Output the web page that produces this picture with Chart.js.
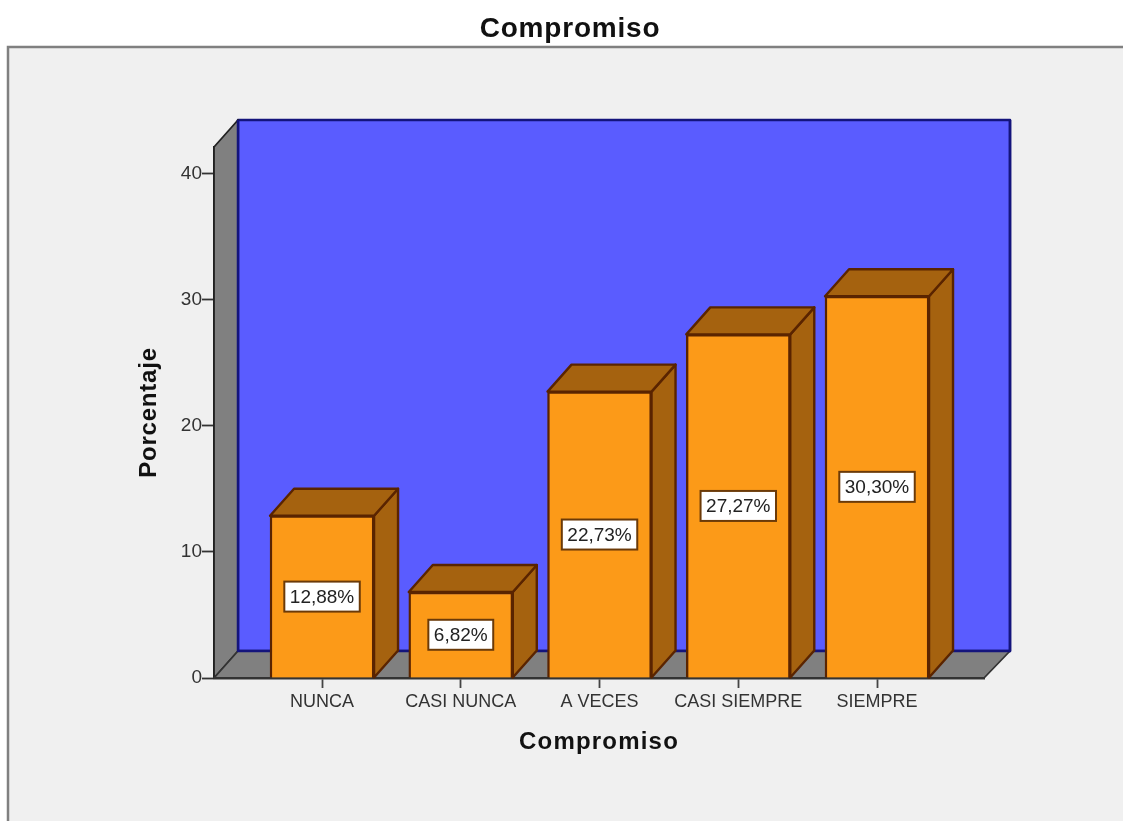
<!DOCTYPE html>
<html><head><meta charset="utf-8">
<script src="https://cdn.jsdelivr.net/npm/chart.js@4"></script>
<style>html,body{margin:0;padding:0;background:#fff}canvas{display:block;filter:blur(.45px)}</style>
</head><body><canvas id="c" width="1123" height="821"></canvas>
<script>
const categories = ['NUNCA','CASI NUNCA','A VECES','CASI SIEMPRE','SIEMPRE'];
const percentages = [12.88,6.82,22.73,27.27,30.30];
const valueLabels = ['12,88%','6,82%','22,73%','27,27%','30,30%'];
const chartTitle = 'Compromiso';
const xTitle = 'Compromiso';
const yTitle = 'Porcentaje';

const DX = 24, DY = 27;
const FONT = '"Liberation Sans", Arial, sans-serif';

function spaced(obj, method, ctx, spacing){
  if(obj['__'+method]) return;
  const orig = obj[method];
  obj['__'+method] = true;
  obj[method] = function(...args){
    ctx.letterSpacing = spacing;
    orig.apply(this,args);
    ctx.letterSpacing = '0px';
  };
}

const scene = {
  id:'scene',
  afterLayout(chart){
    chart.titleBlock.left = 0;
    chart.titleBlock.right = 1140;
    spaced(chart.titleBlock,'draw',chart.ctx,'0.8px');
    spaced(chart.scales.x,'drawTitle',chart.ctx,'1.2px');
    spaced(chart.scales.y,'drawTitle',chart.ctx,'0.8px');
  },
  beforeDraw(chart){
    const c = chart.ctx;
    c.save();
    c.fillStyle='#fff'; c.fillRect(0,0,1123,821);
    c.fillStyle='#f0f0f0'; c.fillRect(8,47,1115,774);
    c.strokeStyle='#808080'; c.lineWidth=2.5;
    c.beginPath(); c.moveTo(8,821); c.lineTo(8,47); c.lineTo(1123,47); c.stroke();
    c.restore();
  },
  beforeDatasetsDraw(chart){
    const c = chart.ctx, a = chart.chartArea;
    const poly=(pts,fill,stroke,lw)=>{
      c.beginPath(); pts.forEach((p,i)=>i?c.lineTo(p[0],p[1]):c.moveTo(p[0],p[1])); c.closePath();
      c.fillStyle=fill; c.fill(); c.strokeStyle=stroke; c.lineWidth=lw; c.lineJoin='round'; c.stroke();
    };
    c.save();
    // back wall
    poly([[a.left+DX,a.top-DY],[a.right+DX+2,a.top-DY],[a.right+DX+2,a.bottom-DY],[a.left+DX,a.bottom-DY]],'#5a5cff','#14147c',2.5);
    // left wall
    poly([[a.left,a.top],[a.left+DX,a.top-DY],[a.left+DX,a.bottom-DY],[a.left,a.bottom]],'#808080','#222',1.8);
    // floor
    poly([[a.left,a.bottom],[a.left+DX,a.bottom-DY],[a.right+DX+2,a.bottom-DY],[a.right,a.bottom]],'#808080','#333',1.8);
    // blue edges over the floor
    c.strokeStyle='#14147c'; c.lineWidth=2.5;
    c.beginPath(); c.moveTo(a.left+DX,a.top-DY); c.lineTo(a.left+DX,a.bottom-DY); c.lineTo(a.right+DX+2,a.bottom-DY); c.lineTo(a.right+DX+2,a.top-DY); c.stroke();
    // bar depth faces
    chart.getDatasetMeta(0).data.forEach(b=>{
      const l=b.x-b.width/2, r=b.x+b.width/2, t=b.y, bt=b.base;
      poly([[r,t],[r+DX,t-DY],[r+DX,bt-DY],[r,bt]],'#a5620f','#5a2400',2.4);
      poly([[l,t],[l+DX,t-DY],[r+DX,t-DY],[r,t]],'#a5620f','#5a2400',2.4);
    });
    c.restore();
  },
  afterDatasetsDraw(chart){
    const c = chart.ctx;
    c.save();
    c.font='19px '+FONT; c.textAlign='center'; c.textBaseline='middle';
    chart.getDatasetMeta(0).data.forEach((b,i)=>{
      const txt=valueLabels[i], w=c.measureText(txt).width+11, h=30, cy=(b.y+b.base)/2;
      c.fillStyle='#fff'; c.strokeStyle='#6b3a08'; c.lineWidth=2;
      c.fillRect(b.x-w/2,cy-h/2,w,h); c.strokeRect(b.x-w/2,cy-h/2,w,h);
      c.fillStyle='#222'; c.fillText(txt,b.x,cy+1);
    });
    c.restore();
  }
};

new Chart(document.getElementById('c'),{
  type:'bar',
  plugins:[scene],
  data:{datasets:[{
    data:percentages.map((v,i)=>({x:i,y:v})),
    backgroundColor:'#fc9a18',borderColor:'#5a2400',borderWidth:2.4,barThickness:104
  }]},
  options:{
    responsive:false,animation:false,devicePixelRatio:1,
    layout:{padding:{left:130,right:139,top:0,bottom:63}},
    plugins:{
      legend:{display:false},tooltip:{enabled:false},
      title:{display:true,text:chartTitle,color:'#111',
        font:{family:FONT,size:28,weight:'bold',lineHeight:1.2},
        padding:{top:12,bottom:101.4}}
    },
    scales:{
      x:{type:'linear',offset:false,min:-0.7787,max:4.771,
        afterBuildTicks(s){s.ticks=categories.map((_,i)=>({value:i}));},
        afterFit(s){s.height=80;},
        border:{color:'#333',width:2.4},
        grid:{offset:false,drawOnChartArea:false,drawTicks:true,tickLength:10,color:'#444',tickWidth:1.8},
        ticks:{autoSkip:false,maxRotation:0,padding:3,color:'#333',font:{family:FONT,size:18},
          callback(v){return categories[v];}},
        title:{display:true,text:xTitle,color:'#111',font:{family:FONT,size:24,weight:'bold',lineHeight:1.2},padding:{top:0,bottom:1}}
      },
      y:{min:0,max:42.14,
        afterFit(s){s.width=84;},
        afterBuildTicks(s){s.ticks=[0,10,20,30,40].map(v=>({value:v}));},
        border:{color:'#222',width:1.8},
        grid:{drawOnChartArea:false,drawTicks:true,tickLength:12,color:'#333',tickWidth:1.8},
        ticks:{padding:0,color:'#333',font:{family:FONT,size:19}},
        title:{display:true,text:yTitle,color:'#111',font:{family:FONT,size:24,weight:'bold',lineHeight:1.2},padding:{top:5,bottom:0}}
      }
    }
  }
});
</script></body></html>
